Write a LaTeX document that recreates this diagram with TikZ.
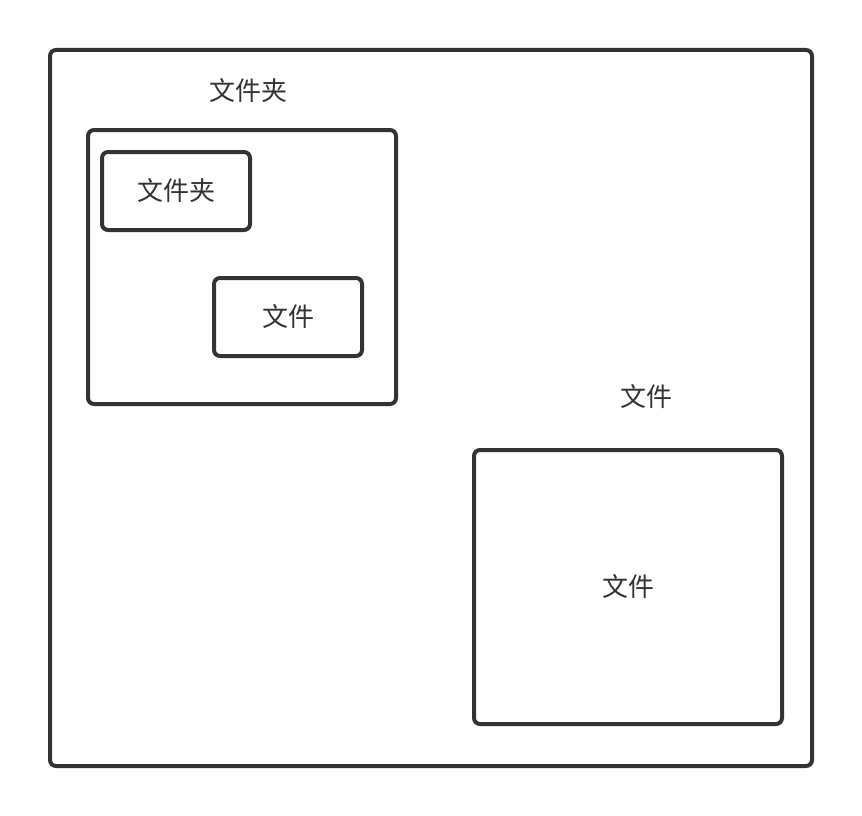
\documentclass[tikz,border=0pt]{standalone}
\usepackage{fontspec}
\setmainfont{Noto Sans CJK SC}
\usepackage{xcolor}
\usetikzlibrary{positioning}
\definecolor{edge}{HTML}{333333}

\begin{document}
\begin{tikzpicture}[
        x=1pt, y=-1pt,
        box/.style={rectangle, draw=edge, line width=4pt, rounded corners=6pt, inner sep=0pt, align=center, text=edge, font=\fontsize{26}{30}\selectfont},
        tag/.style={text=edge, inner sep=0pt, font=\fontsize{26}{30}\selectfont}
    ]
        \useasboundingbox (0,0) rectangle (862,816);
        \node[box, minimum width=762pt, minimum height=716pt] (root) at (431,408) {};
        \node[box, minimum width=308pt, minimum height=274pt] (folder) at (242,267) {};
        \node[box, minimum width=148pt, minimum height=78pt] (subfolder) at (176,191) {文件夹};
        \node[box, minimum width=148pt, minimum height=78pt] (subfile) at (288,317) {文件};
        \node[box, minimum width=308pt, minimum height=274pt] (file) at (628,587) {文件};

        % labels over the boxes
        \node[tag] (folderlabel) at (248,91) {文件夹};
        \node[tag] (filelabel) at (646,397) {文件};
    \end{tikzpicture}
\end{document}
